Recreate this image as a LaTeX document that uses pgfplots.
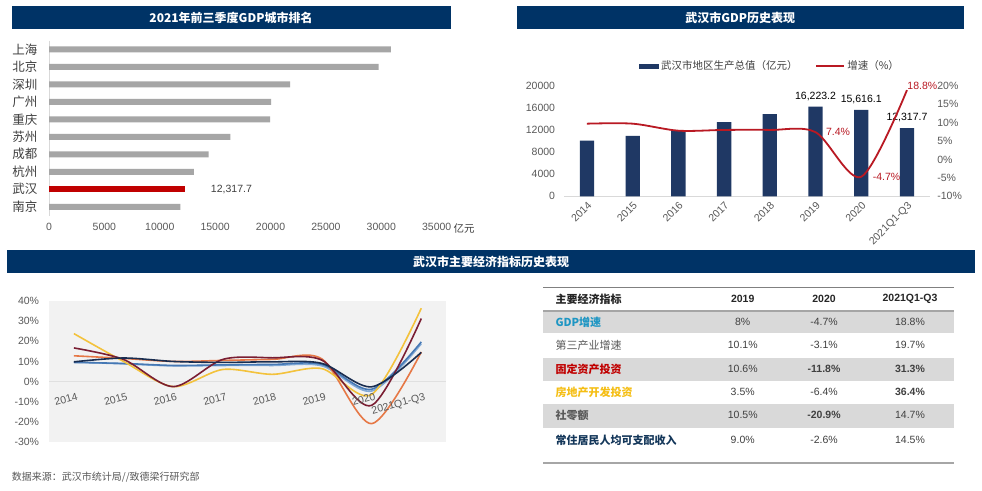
\documentclass[border=0pt]{standalone}
\usepackage{pgfplots}
\pgfplotsset{compat=1.18}
\usepackage{fontspec}
\setmainfont{Liberation Sans}
\newfontfamily\cjk{Noto Sans CJK SC}

\definecolor{navyhdr}{RGB}{0,51,102}
\definecolor{barnavy}{RGB}{31,56,100}
\definecolor{bargray}{RGB}{166,166,166}
\definecolor{barred}{RGB}{192,0,0}
\definecolor{txtgray}{RGB}{89,89,89}
\definecolor{txtdark}{RGB}{64,64,64}
\definecolor{linered}{RGB}{185,25,35}
\definecolor{bgF2}{RGB}{242,242,242}
\definecolor{cyellow}{RGB}{243,194,60}
\definecolor{cmaroon}{RGB}{122,30,50}
\definecolor{corange}{RGB}{230,120,70}
\definecolor{clblue}{RGB}{130,170,215}
\definecolor{csteel}{RGB}{70,120,180}
\definecolor{cnavy}{RGB}{25,45,80}
\definecolor{rowgray}{RGB}{217,217,217}
\definecolor{axgray}{RGB}{217,217,217}
\definecolor{rulegray}{RGB}{165,165,165}
\definecolor{cteal}{RGB}{30,150,195}
\definecolor{cgold}{RGB}{245,190,20}
\definecolor{crowred}{RGB}{192,0,0}
\definecolor{cincome}{RGB}{20,55,90}

\newcommand{\numfont}{\fontsize{10.5}{12}\selectfont}
\newcommand{\cjkfont}{\cjk\fontsize{11}{13}\selectfont}

\begin{document}
\begin{tikzpicture}[x=1pt,y=1pt]
\path[use as bounding box, fill=white] (0,0) rectangle (982,490);

% ---------- title bars ----------
\fill[navyhdr] (11.7,461) rectangle (450.7,484);
\node[text=white, font=\cjk\bfseries\fontsize{12}{14}\selectfont] at (231,472.5) {2021年前三季度GDP城市排名};
\fill[navyhdr] (516.7,461) rectangle (964,484);
\node[text=white, font=\cjk\bfseries\fontsize{12}{14}\selectfont] at (740.3,472.5) {武汉市GDP历史表现};
\fill[navyhdr] (6.7,217.3) rectangle (975,240);
\node[text=white, font=\cjk\bfseries\fontsize{12}{14}\selectfont] at (491,228.6) {武汉市主要经济指标历史表现};

% ---------- chart 1: city ranking ----------
\begin{axis}[
  at={(49pt,274.5pt)}, anchor=south west, scale only axis,
  width=387.7pt, height=174.9pt,
  xbar, bar width=6pt, bar shift=0pt,
  xmin=0, xmax=35000, ymin=-0.5, ymax=9.5, y dir=reverse,
  xtick={0,5000,...,35000}, scaled x ticks=false,
  ytick={0,...,9},
  yticklabels={上海,北京,深圳,广州,重庆,苏州,成都,杭州,武汉,南京},
  yticklabel style={font=\cjk\fontsize{12.5}{14}\selectfont, text=txtdark, xshift=-8pt},
  xticklabel style={font=\numfont, text=txtgray, yshift=-4pt},
  major tick length=0pt,
  axis x line*=bottom, axis y line*=left,
  x axis line style={draw=none}, y axis line style={draw=axgray, -},
  /pgf/number format/1000 sep={}, /pgf/number format/assume math mode=true,
  clip=false,
]
\addplot[fill=bargray, draw=none] coordinates {(30867,0) (29750,1) (21770,2) (20050,3) (19960,4) (16370,5) (14410,6) (13080,7) (11850,9)};
\addplot[fill=barred, draw=none] coordinates {(12317.7,8)};
\node[anchor=west, font=\numfont, text=txtdark, xshift=22pt] at (axis cs:12317.7,8) {12,317.7};
\end{axis}
\node[font=\cjk\fontsize{10.5}{12}\selectfont, text=txtdark] at (464,261.3) {亿元};

% ---------- chart 2: Wuhan GDP ----------
\begin{axis}[
  at={(564.1pt,293.7pt)}, anchor=south west, scale only axis,
  width=365.7pt, height=110.6pt,
  xmin=-0.5, xmax=7.5, ymin=0, ymax=20000,
  xtick={0,...,7}, xticklabels={2014,2015,2016,2017,2018,2019,2020,2021Q1-Q3},
  xticklabel style={rotate=45, anchor=north east, font=\numfont, text=txtgray},
  ytick={0,4000,...,20000}, scaled y ticks=false,
  yticklabel style={font=\numfont, text=txtgray, xshift=-5.5pt},
  major tick length=0pt,
  axis x line*=bottom, axis y line*=left,
  x axis line style={draw=axgray, -}, y axis line style={draw=none},
  /pgf/number format/1000 sep={}, /pgf/number format/assume math mode=true,
  clip=false,
  legend style={at={(0.563,1)}, anchor=south, yshift=10pt, draw=none, fill=none,
    font=\cjk\fontsize{10.5}{12}\selectfont, text=txtdark,
    /tikz/every even column/.append style={column sep=16pt}},
  legend columns=2, legend cell align=left,
]
\addplot[ybar, bar width=14.3pt, bar shift=0pt, fill=barnavy, draw=none,
  legend image code/.code={\fill[barnavy] (0pt,-2.5pt) rectangle (20pt,2.5pt);}]
  coordinates {(0,10069.5) (1,10905.6) (2,11912.6) (3,13410.3) (4,14847.3) (5,16223.2) (6,15616.1) (7,12317.7)};
\addlegendentry{武汉市地区生产总值（亿元）}
\addlegendimage{linered, line width=1.8pt, legend image code/.code={\draw[linered, line width=1.8pt] (0pt,0pt) -- (28pt,0pt);}}
\addlegendentry{增速（\%）}
\node[anchor=south, font=\numfont, text=black, yshift=2.5pt] at (axis cs:5,16223.2) {16,223.2};
\node[anchor=south, font=\numfont, text=black, yshift=2.5pt] at (axis cs:6,15616.1) {15,616.1};
\node[anchor=south, font=\numfont, text=black, yshift=2.5pt] at (axis cs:7,12317.7) {12,317.7};
\end{axis}
\begin{axis}[
  at={(564.1pt,293.7pt)}, anchor=south west, scale only axis,
  width=365.7pt, height=110.6pt,
  xmin=-0.5, xmax=7.5, ymin=-10, ymax=20,
  axis x line=none, axis y line*=right, y axis line style={draw=none},
  ytick={-10,-5,...,20}, yticklabel={\pgfmathprintnumber{\tick}\%},
  yticklabel style={font=\numfont, text=txtgray, xshift=4pt},
  major tick length=0pt,
  /pgf/number format/assume math mode=true,
  clip=false,
]
\addplot[linered, line width=1.8pt, smooth] coordinates {(0,9.7) (1,9.7) (2,7.8) (3,8.0) (4,8.0) (5,7.4) (6,-4.7) (7,18.8)};
\node[anchor=west, font=\numfont, text=linered, xshift=7pt] at (axis cs:5,7.4) {7.4\%};
\node[anchor=west, font=\numfont, text=linered, xshift=8pt] at (axis cs:6,-4.7) {-4.7\%};
\node[anchor=west, font=\numfont, text=linered, xshift=-3pt, yshift=4.5pt] at (axis cs:7,18.8) {18.8\%};
\end{axis}

% ---------- chart 3: indicators ----------
\begin{axis}[
  at={(49.1pt,48pt)}, anchor=south west, scale only axis,
  width=397pt, height=141pt,
  xmin=-0.5, xmax=7.5, ymin=-30, ymax=40,
  axis background/.style={fill=bgF2},
  axis line style={draw=none},
  xtick=\empty,
  ytick={-30,-20,...,40}, yticklabel={\pgfmathprintnumber{\tick}\%},
  yticklabel style={font=\numfont, text=txtgray, xshift=-6.5pt},
  extra y ticks={0}, extra y tick labels={},
  extra y tick style={grid=major, major grid style={draw=black!12, line width=0.6pt}},
  major tick length=0pt,
  /pgf/number format/assume math mode=true,
  clip=false,
]
\addplot[clblue, line width=1.6pt, smooth] coordinates {(0,9.7) (1,8.8) (2,7.8) (3,8.0) (4,8.0) (5,7.8) (6,-4.7) (7,18.8)};
\addplot[csteel, line width=1.6pt, smooth] coordinates {(0,9.5) (1,9.0) (2,8.0) (3,8.3) (4,8.5) (5,8.5) (6,-3.8) (7,19.7)};
\addplot[corange, line width=1.6pt, smooth] coordinates {(0,12.8) (1,11.5) (2,10.0) (3,10.5) (4,11.0) (5,11.2) (6,-20.9) (7,14.7)};
\addplot[cyellow, line width=1.6pt, smooth] coordinates {(0,23.8) (1,10.0) (2,-2.5) (3,6.0) (4,3.6) (5,6.4) (6,-6.4) (7,36.4)};
\addplot[cmaroon, line width=1.6pt, smooth] coordinates {(0,16.7) (1,11.0) (2,-2.5) (3,11.0) (4,11.8) (5,10.6) (6,-11.8) (7,31.3)};
\addplot[cnavy, line width=1.6pt, smooth] coordinates {(0,9.8) (1,11.7) (2,10.0) (3,9.5) (4,9.8) (5,9.0) (6,-2.6) (7,14.5)};
\node[rotate=15, anchor=north east, font=\numfont, text=txtgray, yshift=-8pt, xshift=3pt] at (axis cs:0,0) {2014};
\node[rotate=15, anchor=north east, font=\numfont, text=txtgray, yshift=-8pt, xshift=3pt] at (axis cs:1,0) {2015};
\node[rotate=15, anchor=north east, font=\numfont, text=txtgray, yshift=-8pt, xshift=3pt] at (axis cs:2,0) {2016};
\node[rotate=15, anchor=north east, font=\numfont, text=txtgray, yshift=-8pt, xshift=3pt] at (axis cs:3,0) {2017};
\node[rotate=15, anchor=north east, font=\numfont, text=txtgray, yshift=-8pt, xshift=3pt] at (axis cs:4,0) {2018};
\node[rotate=15, anchor=north east, font=\numfont, text=txtgray, yshift=-8pt, xshift=3pt] at (axis cs:5,0) {2019};
\node[rotate=15, anchor=north east, font=\numfont, text=txtgray, yshift=-8pt, xshift=3pt] at (axis cs:6,0) {2020};
\node[rotate=15, anchor=north east, font=\numfont, text=txtgray, yshift=-8pt, xshift=3pt] at (axis cs:7,0) {2021Q1-Q3};
\end{axis}

% ---------- table ----------
\fill[rowgray] (543,156.7) rectangle (954,178.3);
\fill[rowgray] (543,109) rectangle (954,132.3);
\fill[rowgray] (543,61.7) rectangle (954,85.7);
\draw[black!50, line width=1.5pt] (543,202.7) -- (954,202.7);
\draw[rulegray, line width=2.2pt] (543,179.3) -- (954,179.3);
\draw[black!35, line width=2pt] (543,27) -- (954,27);

\node[anchor=west, font=\cjk\bfseries\fontsize{11}{13}\selectfont, text=black!85] at (552,190.7) {主要经济指标};
\node[font=\bfseries\numfont, text=black!85] at (742.7,190.7) {2019};
\node[font=\bfseries\numfont, text=black!85] at (824,190.7) {2020};
\node[font=\bfseries\numfont, text=black!85] at (910,190.7) {2021Q1-Q3};

\node[anchor=west, font=\cjk\bfseries\fontsize{11}{13}\selectfont, text=cteal] at (552,167.7) {GDP增速};
\node[font=\numfont, text=txtdark] at (742.7,167.7) {8\%};
\node[font=\numfont, text=txtdark] at (824,167.7) {-4.7\%};
\node[font=\numfont, text=txtdark] at (910,167.7) {18.8\%};

\node[anchor=west, font=\cjkfont, text=txtgray] at (552,145) {第三产业增速};
\node[font=\numfont, text=txtdark] at (742.7,145) {10.1\%};
\node[font=\numfont, text=txtdark] at (824,145) {-3.1\%};
\node[font=\numfont, text=txtdark] at (910,145) {19.7\%};

\node[anchor=west, font=\cjk\bfseries\fontsize{11}{13}\selectfont, text=crowred] at (552,120.7) {固定资产投资};
\node[font=\numfont, text=txtdark] at (742.7,120.7) {10.6\%};
\node[font=\bfseries\numfont, text=txtdark] at (824,120.7) {-11.8\%};
\node[font=\bfseries\numfont, text=txtdark] at (910,120.7) {31.3\%};

\node[anchor=west, font=\cjk\bfseries\fontsize{11}{13}\selectfont, text=cgold] at (552,98) {房地产开发投资};
\node[font=\numfont, text=txtdark] at (742.7,98) {3.5\%};
\node[font=\numfont, text=txtdark] at (824,98) {-6.4\%};
\node[font=\bfseries\numfont, text=txtdark] at (910,98) {36.4\%};

\node[anchor=west, font=\cjk\bfseries\fontsize{11}{13}\selectfont, text=txtgray] at (552,74.7) {社零额};
\node[font=\numfont, text=txtdark] at (742.7,74.7) {10.5\%};
\node[font=\bfseries\numfont, text=txtdark] at (824,74.7) {-20.9\%};
\node[font=\numfont, text=txtdark] at (910,74.7) {14.7\%};

\node[anchor=west, font=\cjk\bfseries\fontsize{11}{13}\selectfont, text=cincome] at (552,50) {常住居民人均可支配收入};
\node[font=\numfont, text=txtdark] at (742.7,50) {9.0\%};
\node[font=\numfont, text=txtdark] at (824,50) {-2.6\%};
\node[font=\numfont, text=txtdark] at (910,50) {14.5\%};

% ---------- source ----------
\node[anchor=west, inner sep=0pt, font=\cjk\fontsize{10}{12}\selectfont, text=txtgray] at (11.7,13.3) {数据来源：武汉市统计局//致德梁行研究部};
\end{tikzpicture}
\end{document}
